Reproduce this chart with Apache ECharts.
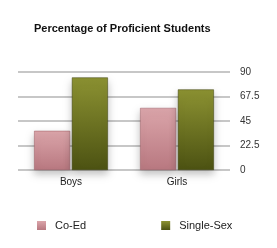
<!DOCTYPE html>
<html>
<head>
<meta charset="utf-8">
<script src="https://cdn.jsdelivr.net/npm/echarts@6/dist/echarts.min.js"></script>
<style>
  html, body { margin: 0; padding: 0; background: #fff; }
  #chart { width: 277px; height: 248px; }
</style>
</head>
<body>
<div id="chart"></div>
<script>
const categories = ['Boys', 'Girls']
const coEd = [36, 57]
const singleSex = [85, 74]
const yTicks = [0, 22.5, 45, 67.5, 90]

const font = 'Liberation Sans, Arial, sans-serif'

function grad(top, bottom) {
  return new echarts.graphic.LinearGradient(0, 0, 0, 1, [
    { offset: 0, color: top },
    { offset: 1, color: bottom }
  ])
}

const chart = echarts.init(document.getElementById('chart'))

chart.setOption({
  animation: false,
  title: {
    text: 'Percentage of Proficient Students',
    left: 29,
    top: 18,
    textStyle: { fontFamily: font, fontSize: 11, fontWeight: 'bold', color: '#111' }
  },
  legend: {
    data: ['Co-Ed', 'Single-Sex'],
    bottom: 12,
    left: 32,
    itemGap: 75,
    itemWidth: 9,
    itemHeight: 9,
    icon: 'rect',
    itemStyle: { borderWidth: 0 },
    textStyle: { fontFamily: font, fontSize: 11, color: '#222', padding: [0, 0, 0, 4] }
  },
  grid: { left: 18, right: 47, top: 72, height: 98 },
  xAxis: {
    type: 'category',
    data: categories,
    axisLine: { show: false },
    axisTick: { show: false },
    axisLabel: { fontFamily: font, fontSize: 10, color: '#222', margin: 7 }
  },
  yAxis: {
    type: 'value',
    position: 'right',
    min: yTicks[0],
    max: yTicks[yTicks.length - 1],
    interval: yTicks[1] - yTicks[0],
    axisLine: { show: false },
    axisTick: { show: false },
    axisLabel: { fontFamily: font, fontSize: 10, color: '#333', margin: 10, align: 'left' },
    splitLine: { lineStyle: { color: '#b4b4b4', width: 1.5 } }
  },
  series: [
    {
      name: 'Co-Ed',
      type: 'bar',
      data: coEd,
      barWidth: 36,
      barGap: '5%',
      itemStyle: {
        color: grad('#dba5aa', '#b87880'),
        borderColor: '#9a5a62',
        borderWidth: 0.5,
        shadowColor: 'rgba(0,0,0,0.25)',
        shadowBlur: 8,
        shadowOffsetY: 4
      }
    },
    {
      name: 'Single-Sex',
      type: 'bar',
      data: singleSex,
      barWidth: 36,
      itemStyle: {
        color: grad('#8c9232', '#4c5212'),
        borderColor: '#3a3e0c',
        borderWidth: 0.5,
        shadowColor: 'rgba(0,0,0,0.25)',
        shadowBlur: 8,
        shadowOffsetY: 4
      }
    }
  ]
})
</script>
</body>
</html>
